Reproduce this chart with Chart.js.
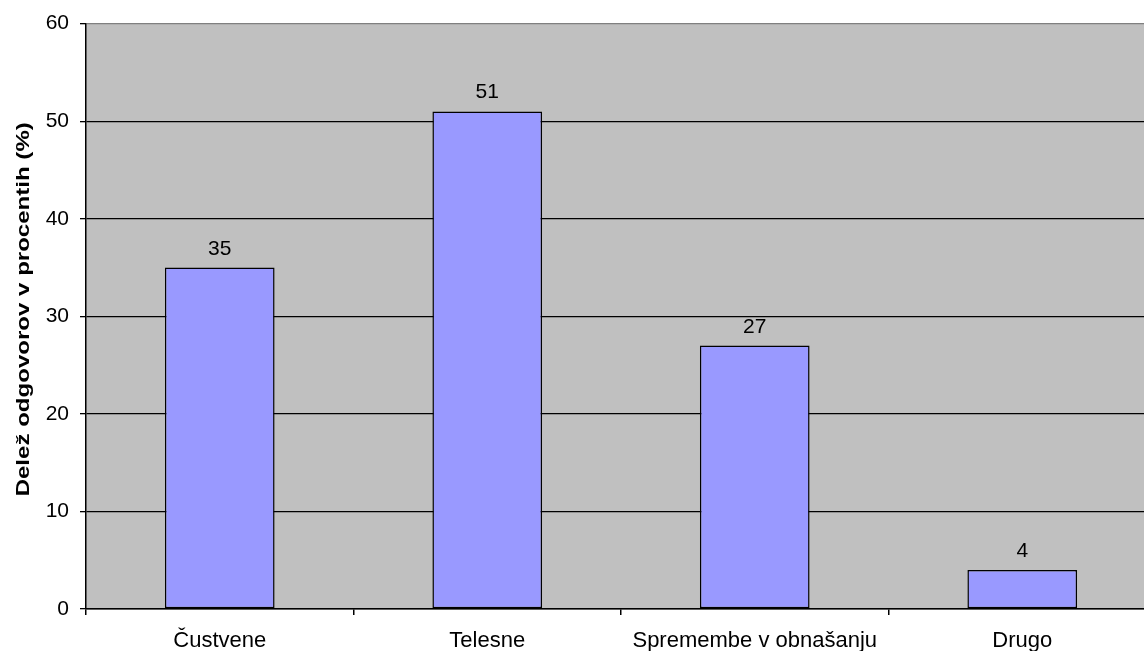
<!DOCTYPE html>
<html>
<head>
<meta charset="utf-8">
<script src="https://cdn.jsdelivr.net/npm/chart.js@4.4.0/dist/chart.umd.min.js"></script>
<style>
  html, body { margin: 0; padding: 0; background: #ffffff; overflow: hidden; }
  #wrap { width: 1156px; height: 651px; position: relative; }
</style>
</head>
<body>
<div id="wrap"><canvas id="myChart"></canvas></div>
<script>
'use strict';

// data
const categories = ['Čustvene', 'Telesne', 'Spremembe v obnašanju', 'Drugo'];
const shares = [35, 51, 27, 4];
const yTicks = [0, 10, 20, 30, 40, 50, 60];
const yTitle = 'Delež odgovorov v procentih (%)';

const fontName = '"Liberation Sans", Arial, sans-serif';

// gray plot background
const plotBackground = {
  id: 'plotBackground',
  beforeDraw(chart) {
    let area = chart.chartArea;
    let ctx = chart.ctx;
    ctx.save();
    ctx.fillStyle = '#c0c0c0';
    ctx.fillRect(area.left, area.top, area.right - area.left, area.bottom - area.top);
    ctx.restore();
  }
};

// numbers above the bars
const barLabels = {
  id: 'barLabels',
  afterDatasetsDraw(chart) {
    let ctx = chart.ctx;
    let meta = chart.getDatasetMeta(0);
    ctx.save();
    ctx.fillStyle = '#000000';
    ctx.font = '21px ' + fontName;
    ctx.textAlign = 'center';
    ctx.textBaseline = 'alphabetic';
    meta.data.forEach(function(bar, i) {
      ctx.fillText(String(shares[i]), bar.x, bar.y - 13);
    });
    ctx.restore();
  }
};

// vertical axis title, stretched along its length like the original
const axisTitle = {
  id: 'axisTitle',
  afterDraw(chart) {
    let area = chart.chartArea;
    let ctx = chart.ctx;
    ctx.save();
    ctx.translate(29, (area.top + area.bottom) / 2 - 7);
    ctx.rotate(-Math.PI / 2);
    ctx.scale(1.3, 1);
    ctx.fillStyle = '#000000';
    ctx.font = 'bold 18.5px ' + fontName;
    ctx.textAlign = 'center';
    ctx.textBaseline = 'alphabetic';
    ctx.fillText(yTitle, 0, 0);
    ctx.restore();
  }
};

const config = {
  type: 'bar',
  data: {
    labels: categories,
    datasets: [
      {
        data: shares,
        backgroundColor: '#9999ff',
        borderColor: '#000000',
        borderWidth: 1.5,
        borderSkipped: false,
        barPercentage: 0.41,
        categoryPercentage: 1
      }
    ]
  },
  options: {
    responsive: true,
    maintainAspectRatio: false,
    animation: false,
    layout: { padding: { top: 22, right: 0, left: 0, bottom: 0 } },
    plugins: {
      legend: { display: false },
      tooltip: { enabled: false }
    },
    scales: {
      x: {
        offset: true,
        grid: {
          offset: true,
          drawOnChartArea: false,
          drawTicks: true,
          tickLength: 6,
          color: '#000000',
          lineWidth: 1.5
        },
        border: { color: '#000000', width: 1.5 },
        ticks: {
          color: '#000000',
          font: { family: fontName, size: 22 },
          padding: 13,
          maxRotation: 0
        },
        afterFit(scale) { scale.height = 42; }
      },
      y: {
        min: 0,
        max: 60,
        afterBuildTicks(scale) {
          scale.ticks = yTicks.map(function(v) { return { value: v }; });
        },
        grid: {
          color: function(c) { return c.tick && c.tick.value === 60 ? '#808080' : '#000000'; },
          lineWidth: 1.3,
          tickLength: 6,
          tickColor: '#000000'
        },
        border: { color: '#000000', width: 1.5 },
        ticks: {
          color: '#000000',
          font: { family: fontName, size: 21 },
          padding: 11
        },
        afterFit(scale) { scale.width = 86; }
      }
    }
  },
  plugins: [plotBackground, barLabels, axisTitle]
};

new Chart(document.getElementById('myChart'), config);
</script>
</body>
</html>
